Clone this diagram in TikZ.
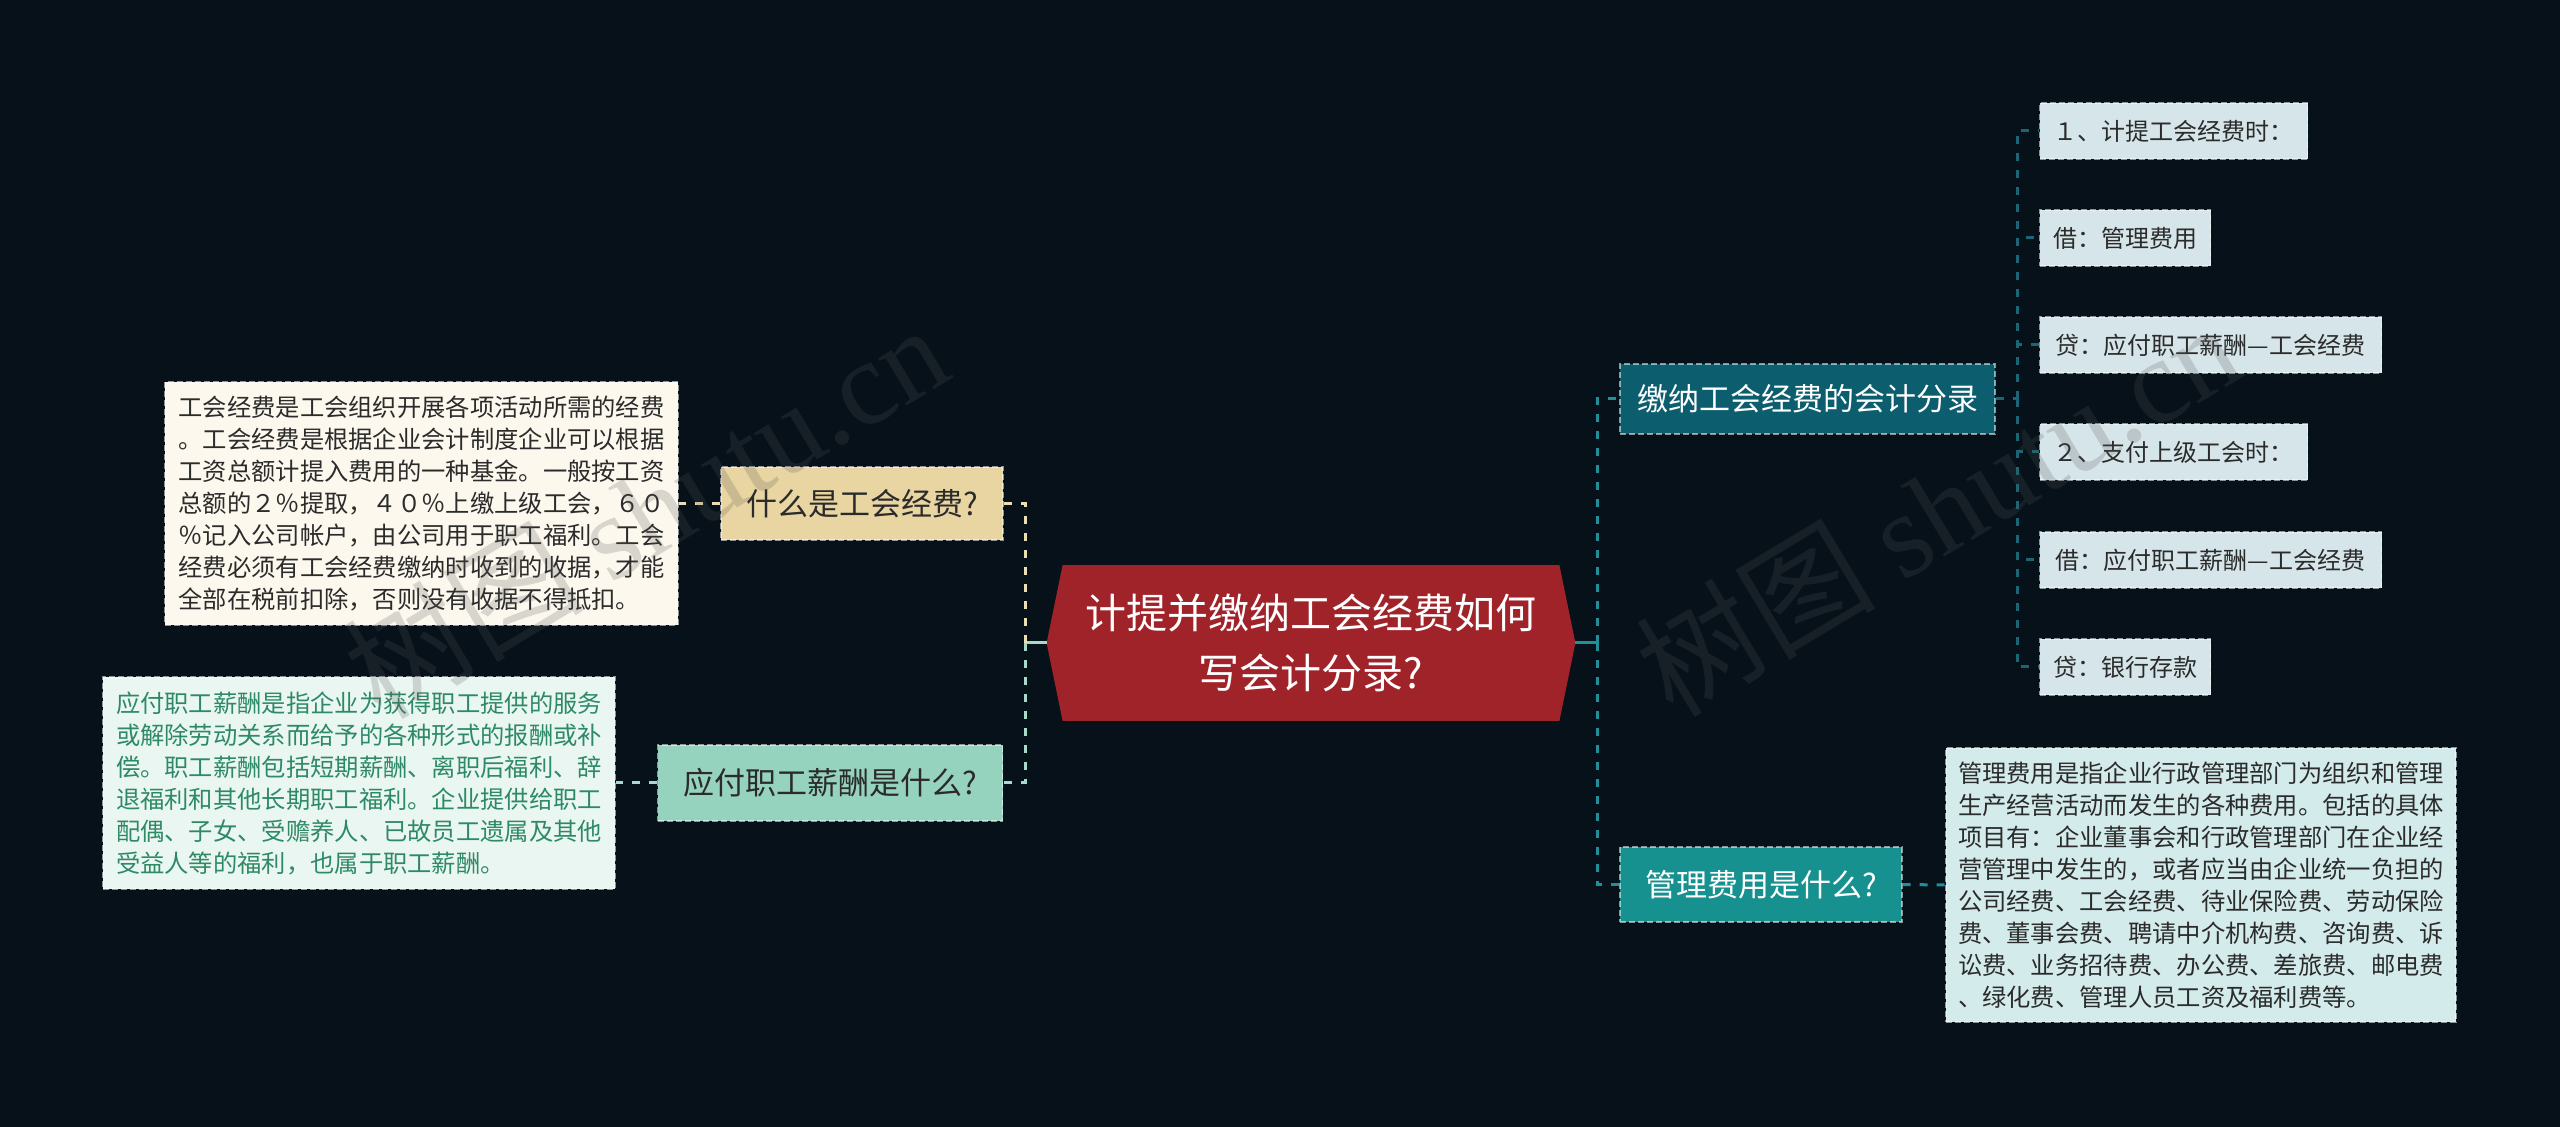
\documentclass[tikz,border=0pt]{standalone}
\usepackage{fontspec}
\setmainfont{Noto Sans CJK SC}
\newfontfamily\wmlatin{Liberation Serif}
\usetikzlibrary{backgrounds}
\definecolor{bgc}{HTML}{061119}
\definecolor{rootred}{HTML}{A0232A}
\definecolor{tanfill}{HTML}{E9D5A2}
\definecolor{creamfill}{HTML}{FCF8EE}
\definecolor{mintfill}{HTML}{95D3BE}
\definecolor{mintlight}{HTML}{EAF6F1}
\definecolor{mintext}{HTML}{2E8A66}
\definecolor{tealdark}{HTML}{0C5D6E}
\definecolor{tealmid}{HTML}{16918F}
\definecolor{cyanlight}{HTML}{D4EBEB}
\definecolor{leaffill}{HTML}{D6E5E9}
\definecolor{darktext}{HTML}{2B2B2B}
\definecolor{tanline}{HTML}{EDDDB2}
\definecolor{mintline}{HTML}{A8DACB}
\definecolor{tealline}{HTML}{1F8F99}
\definecolor{leafline}{HTML}{1C6576}
\tikzset{
  box/.style={rectangle, inner sep=0pt, draw=white, draw opacity=0.55,
    dash pattern=on 3pt off 1.5pt, line width=0.7pt},
  branchfont/.style={font=\fontsize{15.5pt}{20pt}\selectfont},
  bodyfont/.style={font=\fontsize{12.15pt}{16pt}\selectfont, align=left},
  leafbox/.style={box, fill=leaffill, text=darktext, anchor=west,
    minimum height=28pt, font=\fontsize{12pt}{14pt}\selectfont},
  conn/.style={line width=1.5pt, dash pattern=on 4pt off 4.5pt},
  solidconn/.style={line width=1.5pt},
  wm/.style={text=black!65, text opacity=0.22, inner sep=0pt,
    font=\fontsize{60pt}{60pt}\selectfont}
}
\begin{document}
\begin{tikzpicture}[x=0.5pt,y=-0.5pt]
\useasboundingbox (0,0) rectangle (2560,1127);
\begin{scope}[on background layer]
\fill[bgc] (0,0) rectangle (2560,1127);
\end{scope}

% root
\node[inner sep=0pt, minimum width=264pt, minimum height=77.5pt, text=white,
  align=center, font=\fontsize{20.5pt}{30pt}\selectfont] (root) at (1311,643)
  {计提并缴纳工会经费如何\\写会计分录?};
\begin{scope}[on background layer]
\fill[rootred] (root.west) -- ([xshift=8pt]root.north west) -- ([xshift=-8pt]root.north east)
  -- (root.east) -- ([xshift=-8pt]root.south east) -- ([xshift=8pt]root.south west) -- cycle;
\end{scope}

% left side
\node[box, fill=tanfill, text=darktext, branchfont, minimum width=141pt, minimum height=36.5pt]
  (q1) at (862,503.5) {什么是工会经费?};
\node[box, fill=mintfill, text=darktext, branchfont, minimum width=172.5pt, minimum height=38pt]
  (q2) at (830,783) {应付职工薪酬是什么?};
\node[box, fill=creamfill, text=darktext, bodyfont, minimum width=256.5pt, minimum height=121.5pt]
  (d1) at (421.5,503.5) {工会经费是工会组织开展各项活动所需的经费\\
。工会经费是根据企业会计制度企业可以根据\\
工资总额计提入费用的一种基金。一般按工资\\
总额的２％提取，４０％上缴上级工会，６０\\
％记入公司帐户，由公司用于职工福利。工会\\
经费必须有工会经费缴纳时收到的收据，才能\\
全部在税前扣除，否则没有收据不得抵扣。};
\node[box, fill=mintlight, text=mintext, bodyfont, minimum width=256pt, minimum height=106pt]
  (d2) at (359,783) {应付职工薪酬是指企业为获得职工提供的服务\\
或解除劳动关系而给予的各种形式的报酬或补\\
偿。职工薪酬包括短期薪酬、离职后福利、辞\\
退福利和其他长期职工福利。企业提供给职工\\
配偶、子女、受赡养人、已故员工遗属及其他\\
受益人等的福利，也属于职工薪酬。};

% right side
\node[box, fill=tealdark, text=white, branchfont, minimum width=187.5pt, minimum height=35pt]
  (b1) at (1807.5,399) {缴纳工会经费的会计分录};
\node[box, fill=tealmid, text=white, branchfont, minimum width=141pt, minimum height=37.5pt]
  (b2) at (1761,884.5) {管理费用是什么?};
\node[box, fill=cyanlight, text=darktext, bodyfont, minimum width=255pt, minimum height=137pt]
  (d3) at (2201,885) {管理费用是指企业行政管理部门为组织和管理\\
生产经营活动而发生的各种费用。包括的具体\\
项目有：企业董事会和行政管理部门在企业经\\
营管理中发生的，或者应当由企业统一负担的\\
公司经费、工会经费、待业保险费、劳动保险\\
费、董事会费、聘请中介机构费、咨询费、诉\\
讼费、业务招待费、办公费、差旅费、邮电费\\
、绿化费、管理人员工资及福利费等。};

\node[leafbox, minimum width=134pt] (l1) at (2039,131) {１、计提工会经费时：};
\node[leafbox, minimum width=85.5pt] (l2) at (2039,238) {借：管理费用};
\node[leafbox, minimum width=171pt] (l3) at (2039,345) {贷：应付职工薪酬—工会经费};
\node[leafbox, minimum width=134pt] (l4) at (2039,452) {２、支付上级工会时：};
\node[leafbox, minimum width=171pt] (l5) at (2039,560) {借：应付职工薪酬—工会经费};
\node[leafbox, minimum width=85.5pt] (l6) at (2039,667) {贷：银行存款};

% connectors left
\coordinate (ls) at (1025,643);
\draw[solidconn, mintline] (root.west) -- (ls);
\draw[conn, tanline] (ls) |- (q1.east);
\draw[conn, mintline] (ls) |- (q2.east);
\draw[conn, tanline] (q1.west) -- (d1.east);
\draw[conn, mintline] (q2.west) -- (d2.east);

% connectors right
\coordinate (rs) at (1597,643);
\draw[solidconn, tealline] (root.east) -- (rs);
\draw[conn, tealline] (rs) |- (b1.west);
\draw[conn, tealline] (rs) |- (b2.west);
\draw[conn, tealline] (b2.east) -- (d3.west);
\coordinate (ls2) at (2017,399);
\draw[conn, leafline] (b1.east) -- (ls2);
\foreach \n in {l1,l2,l3,l4,l5,l6}
  \draw[conn, leafline] (ls2) |- (\n.west);

% watermarks
\node[wm, rotate=31] (wm1) at (645,510) {树图 {\wmlatin shutu.cn}};
\node[wm, rotate=31] (wm2) at (1937,508) {树图 {\wmlatin shutu.cn}};
\end{tikzpicture}
\end{document}
